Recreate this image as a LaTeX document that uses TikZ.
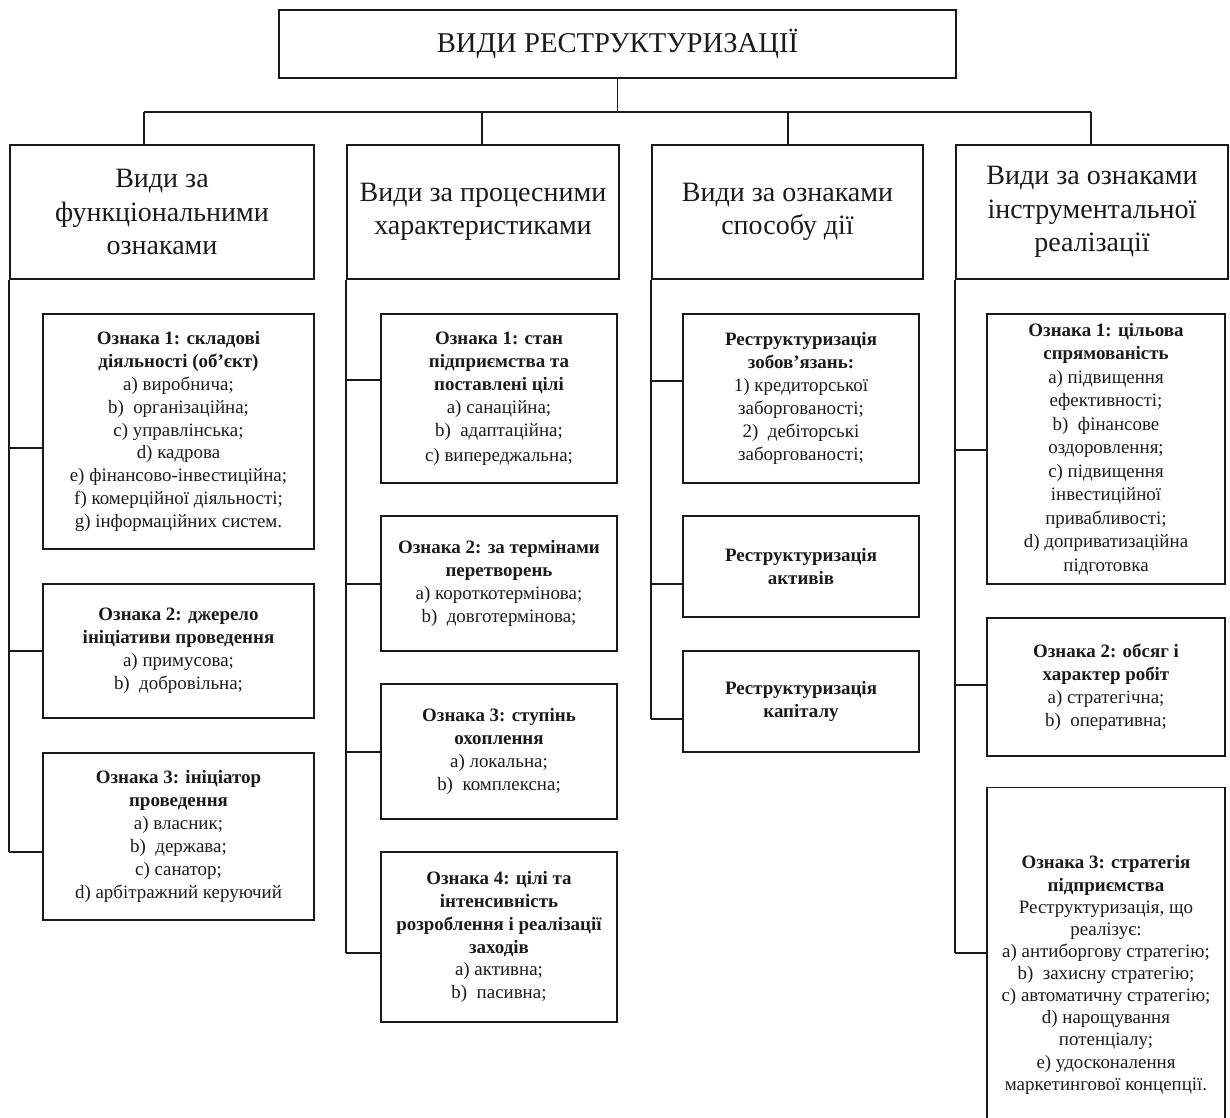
\documentclass[tikz,border=0pt]{standalone}
\usepackage{fontspec}
\setmainfont{Liberation Serif}
\usetikzlibrary{positioning,calc}
\definecolor{ink}{HTML}{1A1A1A}
\newcommand{\TitleFont}{\fontsize{21.5}{26}\selectfont}
\newcommand{\HeadFont}{\fontsize{21}{25.2}\selectfont}
\newcommand{\CardFont}{\fontsize{14.2}{17.2}\selectfont}
\tikzset{
  link/.style={draw=ink, line width=1.2pt},
}

\begin{document}
\begin{tikzpicture}[x=0.75pt,y=-0.75pt,
  rootbox/.style={
    draw=ink, line width=1.2pt, minimum width=507.75pt, minimum height=51pt,
    font=\TitleFont, text=ink, inner sep=0pt
  },
  hdr/.style={
    draw=ink, line width=1.2pt, minimum width=#1, minimum height=100.5pt,
    font=\HeadFont, text=ink, align=center, inner sep=0pt
  },
  card/.style={
    draw=ink, line width=1.2pt, minimum width=#1,
    font=\CardFont, text=ink, align=center, inner sep=0pt
  }]

  \useasboundingbox (0,0) rectangle (1230,1117);
  \clip (0,0) rectangle (1230,1117);

  % Root
  \node[rootbox] (root) at (617.5,44) {ВИДИ РЕСТРУКТУРИЗАЦІЇ};

  % Column headers
  \node[hdr=228pt] (h1) at (162,212) {Види за\\функціональними\\ознаками};
  \node[hdr=204pt] (h2) at (483,212) {Види за процесними\\характеристиками};
  \node[hdr=203.25pt] (h3) at (787.5,212) {Види за ознаками\\способу дії};
  \node[hdr=204pt] (h4) at (1092,212) {Види за ознаками\\інструментальної\\реалізації};

  % Bus from root to headers
  \coordinate (d1) at (144,112);
  \coordinate (d2) at (482,112);
  \coordinate (d3) at (788,112);
  \coordinate (d4) at (1091,112);
  \draw[link] (root.south) -- (root.south |- d1);
  \draw[link] (d1) -- (d4);
  \foreach \d/\h in {d1/h1,d2/h2,d3/h3,d4/h4}
    \draw[link] (\d) -- (\d |- \h.north);

  % Column 1
  \node[card=203.25pt, minimum height=176.25pt] (b11) at (178.5,431.5) {%
    \textbf{Ознака 1: складові}\\
    \textbf{діяльності (об’єкт)}\\
    a) виробнича;\\
    b)~~організаційна;\\
    c) управлінська;\\
    d) кадрова\\
    e) фінансово-інвестиційна;\\
    f) комерційної діяльності;\\
    g) інформаційних систем.};
  \node[card=203.25pt, minimum height=100.5pt] (b12) at (178.5,651) {%
    \textbf{Ознака 2: джерело}\\
    \textbf{ініціативи проведення}\\
    a) примусова;\\
    b)~~добровільна;};
  \node[card=203.25pt, minimum height=125.25pt] (b13) at (178.5,836.5) {%
    \textbf{Ознака 3: ініціатор}\\
    \textbf{проведення}\\
    a) власник;\\
    b)~~держава;\\
    c) санатор;\\
    d) арбітражний керуючий};

  % Column 2
  \node[card=177pt, minimum height=126.75pt] (b21) at (499,398.5) {%
    \textbf{Ознака 1: стан}\\
    \textbf{підприємства та}\\
    \textbf{поставлені цілі}\\
    a) санаційна;\\
    b)~~адаптаційна;\\[1.5pt]
    c) випереджальна;};
  \node[card=177pt, minimum height=101.25pt] (b22) at (499,583.5) {%
    \textbf{Ознака 2: за термінами}\\
    \textbf{перетворень}\\
    a) короткотермінова;\\
    b)~~довготермінова;};
  \node[card=177pt, minimum height=101.25pt] (b23) at (499,751.5) {%
    \textbf{Ознака 3: ступінь}\\
    \textbf{охоплення}\\
    a) локальна;\\
    b)~~комплексна;};
  \node[card=177pt, minimum height=127.5pt] (b24) at (499,937) {%
    \textbf{Ознака 4: цілі та}\\
    \textbf{інтенсивність}\\
    \textbf{розроблення і реалізації}\\
    \textbf{заходів}\\
    a) активна;\\
    b)~~пасивна;};

  % Column 3
  \node[card=177pt, minimum height=126.75pt,
        font=\fontsize{14.2}{17.2}\selectfont] (b31) at (801,398.5) {%
    \textbf{Реструктуризація}\\
    \textbf{зобов’язань:}\\
    1) кредиторської\\
    заборгованості;\\
    2)~~дебіторські\\
    заборгованості;};
  \node[card=177pt, minimum height=75.75pt] (b32) at (801,566.5) {%
    \textbf{Реструктуризація}\\
    \textbf{активів}};
  \node[card=177pt, minimum height=75.75pt] (b33) at (801,701.5) {%
    \textbf{Реструктуризація}\\
    \textbf{капіталу}};

  % Column 4
  \node[card=178.5pt, minimum height=202.5pt,
        font=\fontsize{14.2}{17.6}\selectfont] (b41) at (1106,449) {%
    \textbf{Ознака 1: цільова}\\
    \textbf{спрямованість}\\
    a) підвищення\\
    ефективності;\\
    b)~~фінансове\\
    оздоровлення;\\
    c) підвищення\\
    інвестиційної\\
    привабливості;\\
    d) доприватизаційна\\
    підготовка};
  \node[card=178.5pt, minimum height=103.5pt] (b42) at (1106,687) {%
    \textbf{Ознака 2: обсяг і}\\
    \textbf{характер робіт}\\
    a) стратегічна;\\
    b)~~оперативна;};
  \node[card=178.5pt, minimum height=281.25pt,
        font=\fontsize{14.2}{16.6}\selectfont] (b43) at (1106,975) {%
    \textbf{Ознака 3: стратегія}\\
    \textbf{підприємства}\\
    Реструктуризація, що\\
    реалізує:\\
    a) антиборгову стратегію;\\
    b)~~захисну стратегію;\\
    c) автоматичну стратегію;\\
    d) нарощування\\
    потенціалу;\\
    e) удосконалення\\
    маркетингової концепції.};

  % Spines
  \foreach \h/\y in {h1/852,h2/953,h3/719,h4/953}
    \draw[link] (\h.south west) -- (\h.south west |- 0,\y);

  % Branches
  \foreach \h/\b/\y in {h1/b11/448,h1/b12/651,h1/b13/852,
                        h2/b21/380,h2/b22/584,h2/b23/752,h2/b24/953,
                        h3/b31/381,h3/b32/584,h3/b33/719,
                        h4/b41/450,h4/b42/685,h4/b43/953}
    \draw[link] (\h.south west |- 0,\y) -- (\b.west |- 0,\y);
\end{tikzpicture}
\end{document}
